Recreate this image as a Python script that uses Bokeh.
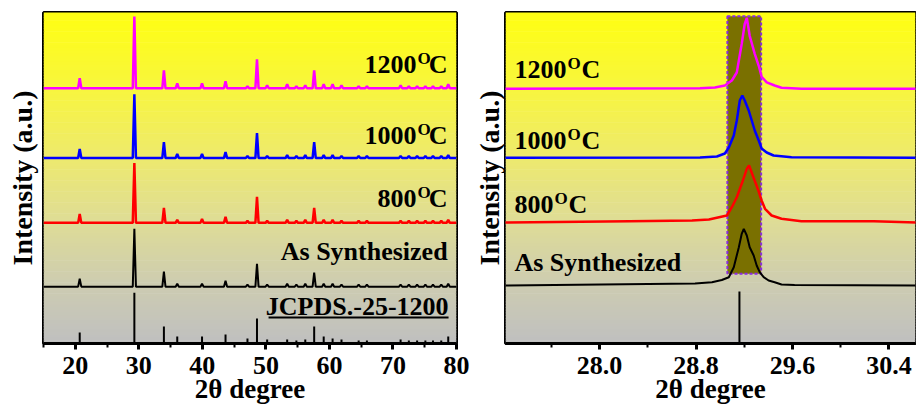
import numpy as np
from bokeh.plotting import figure
from bokeh.models import Range1d, FixedTicker, NumeralTickFormatter
from bokeh.layouts import row
from bokeh.embed import file_html
from bokeh.resources import INLINE
from bokeh.core.properties import value

# ---------------- data ----------------
# Left panel: full patterns, peak positions (2theta) and peak heights (a.u.)
peak_2theta = [20.7, 29.3, 33.95, 36.05, 39.95, 43.65, 47.1, 48.6, 50.2, 53.35, 54.8, 56.2,
               57.6, 59.1, 60.5, 61.9, 64.6, 65.9, 71.2, 72.5, 73.8, 75.1, 76.3, 77.6, 78.7]
int_1200 = [10, 72, 18, 5, 5, 7, 2, 29, 3, 4, 2, 3, 18, 4, 4, 3, 2, 2, 3, 2, 2, 2, 2, 2, 4]
int_1000 = [9, 64, 16, 4, 4, 6, 2, 25, 2, 3, 2, 3, 16, 3, 3, 2, 2, 2, 2, 2, 2, 2, 2, 2, 3]
int_800 = [9, 60, 15, 3, 4, 6, 2, 26, 2, 3, 2, 3, 15, 3, 3, 2, 2, 2, 2, 2, 2, 2, 2, 2, 3]
int_as = [8, 58, 15, 3, 3, 6, 2, 23, 2, 3, 2, 3, 14, 3, 3, 2, 2, 2, 2, 2, 2, 2, 2, 2, 3]
int_jcpds = [11, 51, 17, 7, 7, 9, 5, 25, 4, 4, 3, 4, 17, 7, 5, 4, 3, 3, 4, 3, 3, 3, 3, 3, 7]

# Right panel: zoom of the main reflection, profiles (2theta, intensity)
zx_1200 = [27.2, 28.833, 28.957, 29.039, 29.097, 29.138, 29.179, 29.204, 29.221, 29.245,
           29.287, 29.320, 29.344, 29.386, 29.452, 29.509, 29.674, 30.65]
zy_1200 = [0, 0.5, 1.3, 3.3, 8.3, 16.3, 45.0, 65.0, 71.0, 53.0, 35.0, 23.0, 12.0, 6.5,
           3.3, 1.0, 0.0, 0]
zx_1000 = [27.2, 28.833, 28.973, 29.039, 29.072, 29.113, 29.138, 29.163, 29.184, 29.204,
           29.237, 29.262, 29.287, 29.320, 29.344, 29.386, 29.443, 29.592, 30.65]
zy_1000 = [0, 0.3, 1.3, 4.3, 10.3, 22.3, 37.3, 57.3, 62.3, 57.3, 47.3, 37.3, 27.3, 17.3,
           9.3, 5.3, 2.3, 0.6, 0]
zx_800 = [27.2, 28.247, 28.767, 28.907, 29.056, 29.097, 29.138, 29.179, 29.221, 29.240,
          29.276, 29.317, 29.344, 29.372, 29.427, 29.509, 29.674, 30.276, 30.65]
zy_800 = [0, 1.3, 2.0, 3.0, 7.0, 15.3, 25.3, 38.7, 53.7, 57.0, 45.3, 32.0, 22.0, 13.7,
          7.0, 3.7, 1.3, 1.3, 0]
zx_as = [27.2, 28.792, 28.932, 29.014, 29.072, 29.113, 29.155, 29.179, 29.196, 29.221,
         29.245, 29.278, 29.303, 29.328, 29.361, 29.402, 29.452, 29.509, 29.617, 30.65]
zy_as = [0, 2.0, 3.3, 5.5, 8.3, 18.3, 38.3, 51.7, 56.7, 50.0, 38.3, 30.0, 20.0, 13.3,
         8.3, 5.0, 3.3, 1.0, 0.5, 0]
z_jcpds_x = [29.16]
z_jcpds_y = [52]
highlight_x = [29.06, 29.34]        # shaded 2theta window
highlight_y = [69.7, 327.3]         # shaded intensity window

left_ticks = [20, 30, 40, 50, 60, 70, 80]
left_minor = [15, 20, 25, 30, 35, 40, 45, 50, 55, 60, 65, 70, 75, 80]
right_ticks = [28.0, 28.8, 29.6, 30.4]
right_minor = [27.6, 28.4, 29.2, 30.0]

# ---------------- styling ----------------
FONT = "Liberation Serif"
C1200, C1000, C800, CAS = "#FF00FF", "#0000FF", "#FF0000", "#000000"
left_off = {"1200": 256, "1000": 186, "800": 121, "as": 57}
right_off = {"1200": 254.7, "1000": 185.7, "800": 121, "as": 58}
PEAK_HW = 0.25
TXT_RAISE = 8


def gradient(p, x0, x1, y0, y1, n=120):
    st = [0, .23, .44, .63, .83, 1.0]
    cols = [(255, 255, 18), (248, 246, 62), (238, 234, 110), (223, 221, 150),
            (205, 204, 178), (192, 192, 192)]
    edges = np.linspace(y1, y0, n + 1)
    tc = (np.arange(n) + 0.5) / n
    rgb = [np.interp(tc, st, [c[k] for c in cols]) for k in range(3)]
    colors = ["#%02x%02x%02x" % (int(r), int(g), int(b)) for r, g, b in zip(*rgb)]
    p.quad(left=x0, right=x1, top=edges[:-1] + 0.6, bottom=edges[1:],
           fill_color=colors, line_color=None)


def stick_profile(x0, x1, pos, hts):
    xs, ys = [x0], [0.0]
    for c, h in zip(pos, hts):
        xs += [c - PEAK_HW, c, c + PEAK_HW]
        ys += [0.0, h, 0.0]
    xs.append(x1)
    ys.append(0.0)
    return np.array(xs), np.array(ys)


def style(p, ylabel_standoff):
    p.grid.visible = False
    p.outline_line_color = "black"
    p.outline_line_width = 3
    ax = p.xaxis[0]
    ax.axis_line_width = 3
    ax.major_tick_line_width = 3
    ax.minor_tick_line_width = 2
    ax.major_tick_out = 6
    ax.minor_tick_out = 4
    ax.major_tick_in = 0
    ax.minor_tick_in = 0
    ax.major_label_standoff = 7
    ax.major_label_text_font = FONT
    ax.major_label_text_font_style = "bold"
    ax.major_label_text_font_size = "26px"
    ax.major_label_text_color = "black"
    ax.axis_label = "2θ degree"
    ax.axis_label_standoff = -3
    ax.axis_label_text_font = FONT
    ax.axis_label_text_font_style = "bold"
    ax.axis_label_text_font_size = "27px"
    ax.axis_label_text_color = "black"
    ay = p.yaxis[0]
    ay.ticker = FixedTicker(ticks=[], minor_ticks=[])
    ay.axis_line_color = None
    ay.major_tick_line_color = None
    ay.minor_tick_line_color = None
    ay.major_tick_out = 0
    ay.minor_tick_out = 0
    ay.major_label_standoff = 0
    ay.major_label_text_font_size = "0px"
    ay.axis_label = "Intensity (a.u.)"
    ay.axis_label_standoff = ylabel_standoff
    ay.axis_label_text_font = FONT
    ay.axis_label_text_font_style = "bold"
    ay.axis_label_text_font_size = "28px"
    ay.axis_label_text_color = "black"


def txt(p, x, y, s, size, align, xoff=0):
    p.text(x=[x], y=[y + TXT_RAISE], text=[s], text_font=value(FONT), text_font_style="bold",
           text_font_size=value(size), text_align=align, text_baseline="alphabetic",
           text_color="black", x_offset=xoff)


def temp_right_aligned(p, x, y, num):
    txt(p, x, y, "C", "26px", "right", 0)
    txt(p, x, y + 6, "O", "17px", "right", -17)
    txt(p, x, y, num, "26px", "right", -31)


def temp_left_aligned(p, x, y, num):
    w = 13 * len(num)
    txt(p, x, y, num, "26px", "left", 0)
    txt(p, x, y + 6, "O", "17px", "left", w + 1)
    txt(p, x, y, "C", "26px", "left", w + 15)


# ---------------- left panel ----------------
p1 = figure(width=470, height=406, x_range=Range1d(15, 80), y_range=Range1d(0, 332),
            output_backend="svg", toolbar_location=None,
            min_border_left=43, min_border_right=14, min_border_top=12, min_border_bottom=62)
style(p1, 6)
p1.xaxis.ticker = FixedTicker(ticks=left_ticks, minor_ticks=left_minor)
gradient(p1, 15, 80, 0, 332)

for key, ints, col, lw in [("as", int_as, CAS, 2), ("800", int_800, C800, 2.5),
                           ("1000", int_1000, C1000, 2.5), ("1200", int_1200, C1200, 2.5)]:
    xs, ys = stick_profile(15, 80, peak_2theta, ints)
    p1.line(xs, ys + left_off[key], line_color=col, line_width=lw)
p1.segment(x0=peak_2theta, y0=[0] * len(peak_2theta), x1=peak_2theta, y1=int_jcpds,
           line_color="black", line_width=2)

XR = 78.6
temp_right_aligned(p1, XR, 272, "1200")
temp_right_aligned(p1, XR, 201, "1000")
temp_right_aligned(p1, XR, 137, "800")
txt(p1, XR, 84, "As Synthesized", "26px", "right")
txt(p1, XR + 0.15, 29, "JCPDS.-25-1200", "26px", "right")
p1.segment(x0=[XR + 0.15 - 180 / 6.354], y0=[26], x1=[XR + 0.15], y1=[26],
           line_color="black", line_width=2)

# ---------------- right panel ----------------
p2 = figure(width=446, height=406, x_range=Range1d(27.22, 30.62), y_range=Range1d(0, 331),
            output_backend="svg", toolbar_location=None,
            min_border_left=33, min_border_right=1, min_border_top=12, min_border_bottom=63)
style(p2, 1)
p2.xaxis.ticker = FixedTicker(ticks=right_ticks, minor_ticks=right_minor)
p2.xaxis.formatter = NumeralTickFormatter(format="0.0")
gradient(p2, 27.22, 30.62, 0, 331)

p2.quad(left=highlight_x[0], right=highlight_x[1], bottom=highlight_y[0], top=highlight_y[1],
        fill_color="#7A7000", line_color="#8A2BE2", line_dash="3 2", line_width=2)

for key, zx, zy, col, lw in [("as", zx_as, zy_as, CAS, 2), ("800", zx_800, zy_800, C800, 2.5),
                             ("1000", zx_1000, zy_1000, C1000, 2.5),
                             ("1200", zx_1200, zy_1200, C1200, 2.5)]:
    p2.line(zx, np.array(zy) + right_off[key], line_color=col, line_width=lw)
p2.segment(x0=z_jcpds_x, y0=[0], x1=z_jcpds_x, y1=z_jcpds_y, line_color="black", line_width=2)

XL = 27.294
temp_left_aligned(p2, XL, 266, "1200")
temp_left_aligned(p2, XL, 195, "1000")
temp_left_aligned(p2, XL, 131, "800")
txt(p2, XL, 73, "As Synthesized", "26px", "left")

layout = row(p1, p2)
open("out.html", "w").write(file_html(layout, INLINE))
